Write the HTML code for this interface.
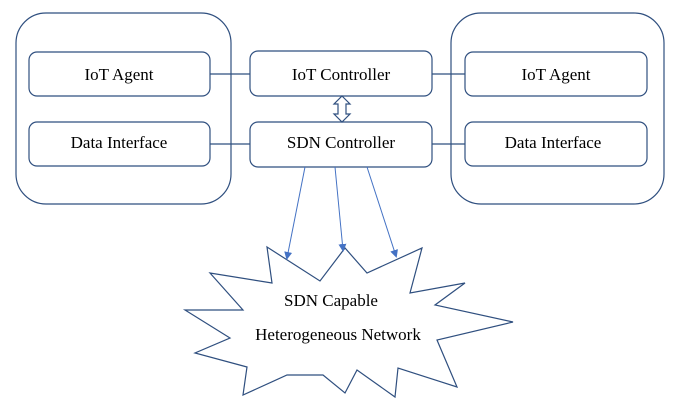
<!DOCTYPE html>
<html><head><style>body{margin:0;background:#fff} svg text{font-family:"Liberation Serif","Times New Roman","Noto Serif CJK SC","DejaVu Serif",serif !important}</style></head><body>
<svg width="685" height="403" xmlns="http://www.w3.org/2000/svg" font-size="17" fill="none">
<defs><marker id="a" markerWidth="8" markerHeight="8" refX="6" refY="4" orient="auto" markerUnits="userSpaceOnUse"><path d="M0,0 L8,4 L0,8 Z" fill="#4472c4"/></marker></defs>
<g stroke="#2f4f7f" stroke-width="1.2">
<rect x="16" y="13" width="215" height="191" rx="30"/>
<rect x="451" y="13" width="213" height="191" rx="30"/>
<rect x="29" y="52" width="181" height="44" rx="8"/>
<rect x="29" y="122" width="181" height="44" rx="8"/>
<rect x="250" y="51" width="182" height="45" rx="8"/>
<rect x="250" y="122" width="182" height="45" rx="8"/>
<rect x="465" y="52" width="182" height="44" rx="8"/>
<rect x="465" y="122" width="182" height="44" rx="8"/>
<line x1="210" y1="74" x2="250" y2="74"/><line x1="210" y1="144" x2="250" y2="144"/>
<line x1="432" y1="74" x2="465" y2="74"/><line x1="432" y1="144" x2="465" y2="144"/>
<path d="M342,96 L350,104 L346,104 L346,114 L350,114 L342,122 L334,114 L338,114 L338,104 L334,104 Z" fill="#fff"/>
<path d="M267,247 L320,281 L345,248 L367,273 L422,248 L410,293 L465,283 L435,305 L513,322 L437,340 L457,387 L398,368 L395,397 L357,370 L345,393 L323,375 L287,375 L243,395 L247,367 L195,353 L230,338 L185,310 L243,310 L210,273 L272,283 Z" fill="#fff"/>
</g>
<g stroke="#4472c4" stroke-width="1" marker-end="url(#a)">
<line x1="305" y1="167" x2="287" y2="258"/>
<line x1="335" y1="167" x2="343" y2="250"/>
<line x1="367" y1="167" x2="396" y2="256"/>
</g>
<g fill="#000" text-anchor="middle">
<text x="119" y="80">IoT Agent</text>
<text x="119" y="148">Data Interface</text>
<text x="341" y="80">IoT Controller</text>
<text x="341" y="148">SDN Controller</text>
<text x="556" y="80">IoT Agent</text>
<text x="553" y="148">Data Interface</text>
<text x="331" y="306">SDN Capable</text>
<text x="338" y="340">Heterogeneous Network</text>
</g>
</svg>
</body></html>
